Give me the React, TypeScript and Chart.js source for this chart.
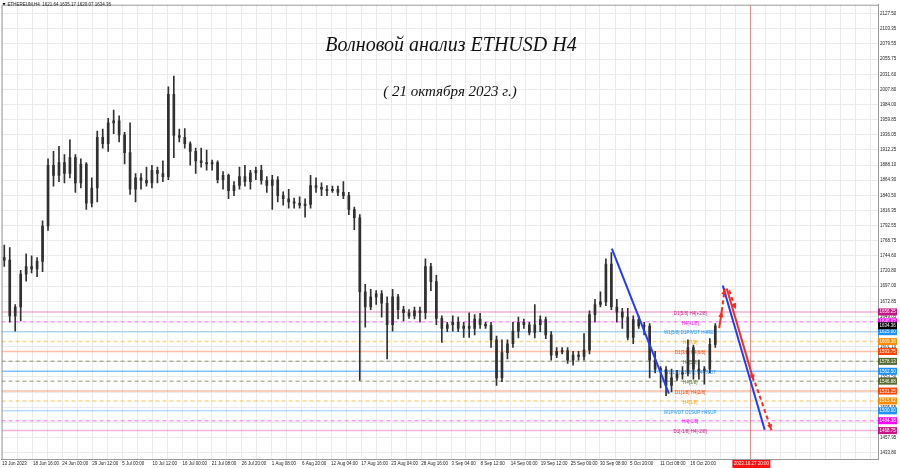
import React, { useEffect, useRef } from 'react';
import { Chart, registerables } from 'chart.js';

Chart.register(...registerables);

const HEADER = 'ETHEREUM,H4  1621.64 1635.17 1620.07 1634.36';
const TITLE = 'Волновой анализ ETHUSD H4';
const SUBTITLE = '( 21 октября 2023 г.)';

// Daily candles from 13 Jun 2023 (index 0) to 21 Oct 2023 (index 130)
const OPEN = [
  1742, 1738, 1650, 1664, 1716, 1728, 1724, 1736, 1792, 1888,
  1872, 1892, 1875, 1900, 1860, 1890, 1828, 1852, 1932, 1922,
  1955, 1958, 1936, 1908, 1850, 1868, 1864, 1860, 1880, 1875,
  1870, 2000, 1935, 1932, 1922, 1910, 1895, 1892, 1890, 1892,
  1865, 1872, 1848, 1856, 1870, 1862, 1876, 1880, 1864, 1856,
  1865, 1840, 1835, 1830, 1828, 1825, 1826, 1856, 1853, 1850,
  1848, 1850, 1845, 1840, 1818, 1805, 1688, 1664, 1680, 1685,
  1670, 1636, 1680, 1660, 1655, 1650, 1658, 1655, 1728, 1704,
  1646, 1630, 1636, 1640, 1630, 1634, 1630, 1645, 1636, 1635,
  1612, 1552, 1592, 1606, 1626, 1640, 1636, 1624, 1636, 1644,
  1620, 1588, 1594, 1595, 1580, 1588, 1586, 1596, 1652, 1668,
  1672, 1732, 1664, 1656, 1648, 1616, 1644, 1634, 1634, 1580,
  1566, 1565, 1540, 1552, 1558, 1560, 1600, 1566, 1564, 1566,
  1605,
];
const HIGH = [
  1762, 1758, 1668, 1722, 1748, 1745, 1742, 1800, 1898, 1910,
  1918, 1905, 1928, 1905, 1898, 1892, 1868, 1942, 1945, 1962,
  1975, 1966, 1940, 1955, 1875, 1875, 1885, 1888, 1885, 1895,
  2012, 2029, 1945, 1946, 1925, 1915, 1915, 1912, 1896, 1895,
  1878, 1874, 1862, 1885, 1888, 1880, 1885, 1888, 1870, 1872,
  1870, 1846, 1850, 1836, 1838, 1835, 1872, 1868, 1860, 1856,
  1855, 1855, 1862, 1845, 1822, 1810, 1700, 1692, 1690, 1690,
  1680, 1692, 1684, 1665, 1660, 1664, 1664, 1740, 1733, 1714,
  1650, 1640, 1650, 1648, 1640, 1655, 1652, 1654, 1640, 1640,
  1618, 1612, 1612, 1640, 1648, 1645, 1640, 1668, 1650, 1648,
  1625, 1600, 1600, 1600, 1594, 1594, 1622, 1658, 1676, 1688,
  1740, 1750, 1676, 1662, 1662, 1650, 1650, 1640, 1638, 1594,
  1570, 1570, 1566, 1564, 1570, 1612, 1604, 1580, 1570, 1614,
  1638,
];
const LOW = [
  1728, 1640, 1626, 1642, 1705, 1718, 1712, 1720, 1785, 1855,
  1862, 1860, 1868, 1845, 1852, 1818, 1822, 1830, 1915, 1910,
  1938, 1925, 1890, 1842, 1830, 1850, 1855, 1852, 1860, 1862,
  1865, 1900, 1925, 1915, 1888, 1875, 1885, 1880, 1880, 1860,
  1850, 1835, 1840, 1850, 1855, 1850, 1865, 1858, 1845, 1818,
  1830, 1825, 1820, 1820, 1820, 1806, 1820, 1845, 1840, 1840,
  1845, 1840, 1835, 1810, 1786, 1548, 1632, 1660, 1668, 1648,
  1582, 1626, 1645, 1642, 1646, 1645, 1640, 1645, 1690, 1636,
  1608, 1625, 1626, 1625, 1616, 1616, 1620, 1630, 1630, 1600,
  1540, 1546, 1582, 1600, 1615, 1630, 1620, 1615, 1625, 1614,
  1580, 1584, 1590, 1575, 1572, 1580, 1580, 1590, 1640, 1664,
  1666, 1660, 1640, 1630, 1612, 1606, 1630, 1620, 1552, 1560,
  1536, 1524, 1530, 1548, 1550, 1555, 1550, 1550, 1542, 1560,
  1600,
];
const CLOSE = [
  1738, 1650, 1664, 1716, 1728, 1724, 1736, 1792, 1888, 1872,
  1892, 1875, 1900, 1860, 1890, 1828, 1852, 1932, 1922, 1955,
  1958, 1936, 1908, 1850, 1868, 1864, 1860, 1880, 1875, 1870,
  2000, 1935, 1932, 1922, 1910, 1895, 1892, 1890, 1892, 1865,
  1872, 1848, 1856, 1870, 1862, 1876, 1880, 1864, 1856, 1865,
  1840, 1835, 1830, 1828, 1825, 1826, 1856, 1853, 1850, 1848,
  1850, 1845, 1840, 1818, 1805, 1688, 1664, 1680, 1685, 1670,
  1636, 1680, 1660, 1655, 1650, 1658, 1655, 1728, 1704, 1646,
  1630, 1636, 1640, 1630, 1634, 1630, 1645, 1636, 1635, 1612,
  1552, 1592, 1606, 1626, 1640, 1636, 1624, 1636, 1644, 1620,
  1588, 1594, 1595, 1580, 1588, 1586, 1596, 1652, 1668, 1672,
  1732, 1664, 1656, 1648, 1616, 1644, 1634, 1634, 1580, 1566,
  1565, 1540, 1552, 1558, 1560, 1600, 1566, 1564, 1566, 1605,
  1634.36,
];
const LAST_PRICE = 1634.36;

const Y_TICKS = [
  2127.5, 2103.35, 2079.55, 2055.75, 2031.6, 2007.8, 1984.0, 1959.85, 1936.05, 1912.25,
  1888.1, 1864.3, 1840.5, 1816.35, 1792.55, 1768.75, 1744.6, 1720.8, 1697.0, 1672.85,
  1649.05, 1625.25, 1601.1, 1577.3, 1553.5, 1529.35, 1505.55, 1481.75, 1457.95, 1433.8,
];

const X_TICK_TIMES = [
  '2023-06-13T00:00', '2023-06-18T16:00', '2023-06-24T00:00', '2023-06-29T12:00',
  '2023-07-05T00:00', '2023-07-10T12:00', '2023-07-16T00:00', '2023-07-21T08:00',
  '2023-07-26T20:00', '2023-08-01T08:00', '2023-08-06T20:00', '2023-08-12T04:00',
  '2023-08-17T16:00', '2023-08-23T04:00', '2023-08-28T16:00', '2023-09-03T04:00',
  '2023-09-08T12:00', '2023-09-14T00:00', '2023-09-19T12:00', '2023-09-25T00:00',
  '2023-09-30T08:00', '2023-10-05T20:00', '2023-10-11T08:00', '2023-10-16T20:00',
];
const X_TICK_LABELS = [
  '13 Jun 2023', '18 Jun 16:00', '24 Jun 00:00', '29 Jun 12:00',
  '5 Jul 00:00', '10 Jul 12:00', '16 Jul 00:00', '21 Jul 08:00',
  '26 Jul 20:00', '1 Aug 08:00', '6 Aug 20:00', '12 Aug 04:00',
  '17 Aug 16:00', '23 Aug 04:00', '28 Aug 16:00', '3 Sep 04:00',
  '8 Sep 12:00', '14 Sep 00:00', '19 Sep 12:00', '25 Sep 00:00',
  '30 Sep 08:00', '5 Oct 20:00', '11 Oct 08:00', '16 Oct 20:00',
];
const FORECAST_TIME = '2023-10-27T20:00';
const FORECAST_LABEL = '2023.10.27 20:00';

// Murrey-type levels
const LEVEL_PRICES = [1656.25, 1640.62, 1625.0, 1609.38, 1593.75, 1578.13, 1562.5, 1546.88, 1531.25, 1515.62, 1500.0, 1484.38, 1468.75];
const LEVEL_NAMES = [
  'D1[5/8] H4[+2/8]', 'H4[+1/8]', 'W1[5/8] D1PIVOT H4RES', 'H4[7/8]', 'D1[3/8] H4[6/8]', 'H4[5/8]',
  'W1[1/8] D1[2/8] H4PIVOT', 'H4[3/8]', 'D1[1/8] H4[2/8]', 'H4[1/8]', 'W1PIVOT D1SUP H4SUP', 'H4[-1/8]', 'D1[-1/8] H4[-2/8]',
];
const LEVEL_LABEL_TIME = '2023-10-16T20:00';

// wave lines: [bar, price] endpoints (bar = H4 bars since 13 Jun 00:00)
const BLUE_WAVES = [
  [[669.0, 1756.1], [731.6, 1527.3]],
  [[790.7, 1698.1], [836.7, 1470.1]],
];
const RED_WAVES = [
  [[786.8, 1630.8], [789.6, 1657.4]],
  [[789.6, 1657.4], [792.9, 1693.4]],
  [[795.1, 1693.4], [824.6, 1547.7]],
  [[797.8, 1690.3], [804.9, 1660.5]],
  [[826.1, 1544.6], [844.2, 1469.4]],
];

// ---------- styles ----------
const RED_DASHED = [false, true, false, true, true];
const LEVEL_STYLES = [
  { line: '#e0409a', text: '#c71585', box: '#c71585', dash: false, alpha: 0.4 },
  { line: '#ff00ff', text: '#ff00ff', box: '#ff00ff', dash: true, alpha: 0.4 },
  { line: '#1e90ff', text: '#1e90ff', box: '#1e90ff', dash: false, alpha: 0.3 },
  { line: '#ffa500', text: '#ff9900', box: '#ff8c00', dash: true, alpha: 0.45 },
  { line: '#ff4500', text: '#ff4500', box: '#ff4500', dash: false, alpha: 0.35 },
  { line: '#556b2f', text: '#556b2f', box: '#556b2f', dash: true, alpha: 0.45 },
  { line: '#1e90ff', text: '#1e90ff', box: '#1e90ff', dash: false, alpha: 0.55 },
  { line: '#556b2f', text: '#556b2f', box: '#556b2f', dash: true, alpha: 0.45 },
  { line: '#ff4500', text: '#ff4500', box: '#ff4500', dash: false, alpha: 0.35 },
  { line: '#ffa500', text: '#ff9900', box: '#ff8c00', dash: true, alpha: 0.45 },
  { line: '#1e90ff', text: '#1e90ff', box: '#1e90ff', dash: false, alpha: 0.3 },
  { line: '#ff00ff', text: '#ff00ff', box: '#ff00ff', dash: true, alpha: 0.4 },
  { line: '#e0409a', text: '#c71585', box: '#c71585', dash: false, alpha: 0.4 },
];
const SMALL_FONT = '4.5px "Liberation Sans"';

const T0 = Date.UTC(2023, 5, 13, 0, 0);
function toBar(t: string): number {
  const [d, hm] = t.split('T');
  const [Y, M, D] = d.split('-').map(Number);
  const [h, m] = hm.split(':').map(Number);
  return (Date.UTC(Y, M - 1, D, h, m) - T0) / (4 * 3600 * 1000);
}

const X_MIN = -0.5;
const X_MAX = 961;
const Y_MIN = 1423.9;
const Y_MAX = 2141.6;

function buildXTicks() {
  const bars = X_TICK_TIMES.map(toBar);
  const ticks: { value: number; label: string }[] = [];
  for (let i = 0; i < bars.length; i++) {
    ticks.push({ value: bars[i], label: X_TICK_LABELS[i] });
    const next = i + 1 < bars.length ? bars[i + 1] : bars[i] + 33;
    ticks.push({ value: (bars[i] + next) / 2, label: '' });
  }
  let b = bars[bars.length - 1] + 33;
  while (b < X_MAX) {
    ticks.push({ value: b, label: '' });
    if (b + 16.5 < X_MAX) ticks.push({ value: b + 16.5, label: '' });
    b += 33;
  }
  return ticks;
}

function arrowHead(ctx: CanvasRenderingContext2D, x1: number, y1: number, x2: number, y2: number, color: string) {
  const a = Math.atan2(y2 - y1, x2 - x1);
  const len = 6;
  const half = 2.6;
  const bx = x2 - len * Math.cos(a);
  const by = y2 - len * Math.sin(a);
  ctx.fillStyle = color;
  ctx.beginPath();
  ctx.moveTo(x2, y2);
  ctx.lineTo(bx + half * Math.sin(a), by - half * Math.cos(a));
  ctx.lineTo(bx - half * Math.sin(a), by + half * Math.cos(a));
  ctx.closePath();
  ctx.fill();
}

export default function App() {
  const ref = useRef<HTMLCanvasElement>(null);

  useEffect(() => {
    document.body.style.margin = '0';
    const canvas = ref.current!;
    const xTicks = buildXTicks();

    const dayBar = (d: number) => d * 6 + 2.5;
    const wicks = HIGH.map((h, d) => ({ x: dayBar(d), y: [LOW[d], h] }));
    const bodies = OPEN.map((o, d) => {
      const c = CLOSE[d];
      const lo = Math.min(o, c);
      const hi = Math.max(o, c);
      return { x: dayBar(d), y: hi - lo < 1.5 ? [lo - 0.75, hi + 0.75] : [lo, hi] };
    });

    const waveSets: any[] = [];
    BLUE_WAVES.forEach((seg) => {
      waveSets.push({
        type: 'line',
        data: seg.map(([x, y]) => ({ x, y })),
        borderColor: '#1f3cff',
        borderWidth: 2,
        pointRadius: 0,
        order: 0,
      });
    });
    RED_WAVES.forEach((seg, i) => {
      waveSets.push({
        type: 'line',
        data: seg.map(([x, y]) => ({ x, y })),
        borderColor: '#ff2a1a',
        borderWidth: 2,
        borderDash: RED_DASHED[i] ? [4, 3] : [],
        pointRadius: 0,
        order: 0,
      });
    });

    const overlay = {
      id: 'overlay',
      beforeDatasetsDraw(chart: any) {
        const { ctx, chartArea: a, scales } = chart;
        const x = scales.x;
        const y = scales.y;
        ctx.save();
        ctx.beginPath();
        ctx.rect(a.left, a.top, a.right - a.left, a.bottom - a.top);
        ctx.clip();
        // forecast vertical line
        const fx = Math.round(x.getPixelForValue(toBar(FORECAST_TIME))) + 0.5;
        ctx.strokeStyle = 'rgba(255,70,70,0.6)';
        ctx.lineWidth = 1;
        ctx.beginPath();
        ctx.moveTo(fx, a.top);
        ctx.lineTo(fx, a.bottom);
        ctx.stroke();
        // level lines
        LEVEL_PRICES.forEach((p, i) => {
          const st = LEVEL_STYLES[i];
          const py = y.getPixelForValue(p);
          ctx.globalAlpha = st.alpha;
          ctx.strokeStyle = st.line;
          ctx.lineWidth = 1.5;
          ctx.setLineDash(st.dash ? [4, 3] : []);
          ctx.beginPath();
          ctx.moveTo(a.left, py);
          ctx.lineTo(a.right, py);
          ctx.stroke();
        });
        ctx.globalAlpha = 1;
        ctx.setLineDash([]);
        // level labels
        ctx.font = SMALL_FONT;
        ctx.textAlign = 'center';
        ctx.textBaseline = 'middle';
        const lx = x.getPixelForValue(toBar(LEVEL_LABEL_TIME));
        LEVEL_NAMES.forEach((n, i) => {
          ctx.fillStyle = LEVEL_STYLES[i].text;
          ctx.fillText(n, lx, y.getPixelForValue(LEVEL_PRICES[i]) + 1.5);
        });
        ctx.restore();
      },
      afterDraw(chart: any) {
        const { ctx, chartArea: a, scales } = chart;
        const x = scales.x;
        const y = scales.y;
        ctx.save();
        // left / top border
        ctx.strokeStyle = '#9a9a9a';
        ctx.lineWidth = 1;
        ctx.beginPath();
        ctx.moveTo(a.left + 0.5, a.bottom);
        ctx.lineTo(a.left + 0.5, a.top + 0.5);
        ctx.lineTo(a.right, a.top + 0.5);
        ctx.stroke();

        // arrowheads on red waves
        ctx.save();
        ctx.beginPath();
        ctx.rect(a.left, a.top, a.right - a.left, a.bottom - a.top);
        ctx.clip();
        RED_WAVES.forEach((seg) => {
          const x1 = x.getPixelForValue(seg[0][0]);
          const y1 = y.getPixelForValue(seg[0][1]);
          const x2 = x.getPixelForValue(seg[1][0]);
          const y2 = y.getPixelForValue(seg[1][1]);
          arrowHead(ctx, x1, y1, x2, y2, '#ff2a1a');
        });
        ctx.restore();

        // price boxes on the right axis
        ctx.font = SMALL_FONT;
        ctx.textBaseline = 'middle';
        ctx.textAlign = 'left';
        const boxX = a.right;
        const drawBox = (p: number, bg: string, fg: string) => {
          const py = y.getPixelForValue(p);
          ctx.fillStyle = bg;
          ctx.fillRect(boxX, py - 3.5, 19, 7);
          ctx.fillStyle = fg;
          ctx.fillText(p.toFixed(2), boxX + 1.5, py + 0.3);
        };
        LEVEL_PRICES.forEach((p, i) => drawBox(p, LEVEL_STYLES[i].box, '#ffffff'));
        drawBox(LAST_PRICE, '#000000', '#ffffff');

        // forecast time box on the x axis
        const fx = x.getPixelForValue(toBar(FORECAST_TIME)) + 1;
        ctx.fillStyle = '#ff1010';
        ctx.fillRect(fx - 19, a.bottom + 1, 38, 8);
        ctx.fillStyle = '#ffffff';
        ctx.textAlign = 'center';
        ctx.fillText(FORECAST_LABEL, fx, a.bottom + 5);

        // header
        ctx.fillStyle = '#000';
        ctx.beginPath();
        ctx.moveTo(2.5, 3);
        ctx.lineTo(5.5, 3);
        ctx.lineTo(4, 5.5);
        ctx.closePath();
        ctx.fill();
        ctx.textAlign = 'left';
        ctx.fillStyle = '#222';
        ctx.fillText(HEADER, 7.5, 4.5);

        // titles
        ctx.fillStyle = '#111';
        ctx.textAlign = 'center';
        ctx.textBaseline = 'alphabetic';
        ctx.font = 'italic 20px "Liberation Serif"';
        ctx.fillText(TITLE, 451, 51);
        ctx.font = 'italic 15px "Liberation Serif"';
        ctx.fillText(SUBTITLE, 450, 96);
        ctx.restore();
      },
    };

    const chart = new Chart(canvas, {
      type: 'bar',
      data: {
        datasets: [
          ...waveSets,
          {
            type: 'bar',
            data: bodies as any,
            backgroundColor: '#303030',
            barThickness: 2,
            grouped: false,
            order: 1,
          } as any,
          {
            type: 'bar',
            data: wicks as any,
            backgroundColor: '#303030',
            barThickness: 1,
            grouped: false,
            order: 2,
          } as any,
        ],
      },
      options: {
        animation: false,
        responsive: false,
        maintainAspectRatio: false,
        events: [],
        layout: { padding: { left: 1, top: 1, right: 0, bottom: 0 } },
        plugins: { legend: { display: false }, tooltip: { enabled: false } },
        scales: {
          x: {
            type: 'linear',
            min: X_MIN,
            max: X_MAX,
            offset: false,
            position: 'bottom',
            afterFit: (s: any) => {
              s.height = 9;
            },
            afterBuildTicks: (s: any) => {
              s.ticks = xTicks.map((t) => ({ value: t.value }));
            },
            ticks: {
              autoSkip: false,
              maxRotation: 0,
              minRotation: 0,
              align: 'start',
              padding: 2,
              color: '#222',
              font: { size: 4.5, family: 'Liberation Sans' },
              callback: (_v: any, i: number) => (xTicks[i] ? xTicks[i].label : ''),
            },
            grid: { color: '#ebebeb', drawTicks: false, lineWidth: 1, offset: false },
            border: { color: '#9a9a9a' },
          },
          y: {
            type: 'linear',
            position: 'right',
            min: Y_MIN,
            max: Y_MAX,
            afterFit: (s: any) => {
              s.width = 22;
            },
            afterBuildTicks: (s: any) => {
              s.ticks = Y_TICKS.map((v) => ({ value: v }));
            },
            ticks: {
              autoSkip: false,
              padding: 2,
              color: '#222',
              font: { size: 4.5, family: 'Liberation Sans' },
              callback: (v: any) => Number(v).toFixed(2),
            },
            grid: { color: '#ebebeb', drawTicks: false, lineWidth: 1 },
            border: { color: '#9a9a9a' },
          },
        },
      } as any,
      plugins: [overlay],
    });

    return () => chart.destroy();
  }, []);

  return (
    <div style={{ position: 'fixed', left: 0, top: 0, width: 900, height: 468, background: '#fff' }}>
      <canvas ref={ref} width={900} height={468} style={{ display: 'block', width: 900, height: 468 }} />
    </div>
  );
}
